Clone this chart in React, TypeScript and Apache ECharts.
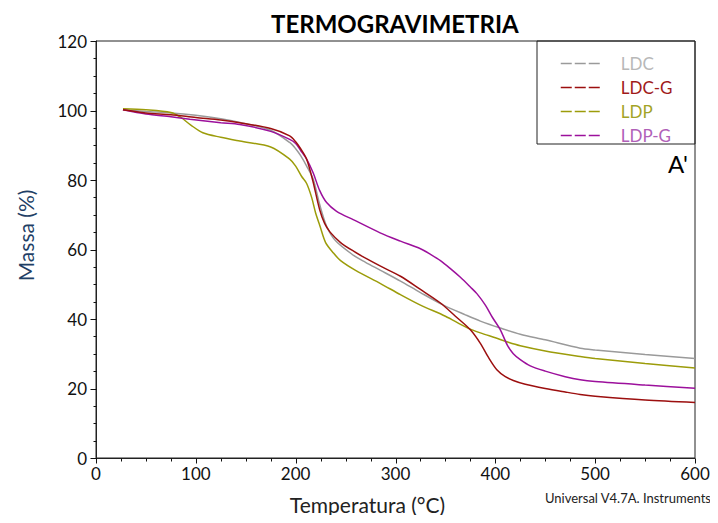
import React, { useEffect, useRef } from "react";
import * as echarts from "echarts";

const FONT = "Lato, 'Open Sans', sans-serif";

const seriesNames = ["LDC", "LDC-G", "LDP", "LDP-G"];
const seriesColors = ["#9a9a9a", "#9c0f0f", "#9c9c0a", "#9c109c"];
const legendTextColors = ["#b8b8b8", "#a01a1a", "#a3a326", "#b060b8"];

const ldcTemp = [27, 50, 75, 100, 125, 150, 175, 194, 200, 205, 211, 217.6, 224, 231, 240, 258, 270, 285, 305, 325, 348, 370, 385, 405, 425, 450, 485, 500, 550, 600];
const ldcMass = [100.2, 99.7, 99.3, 98.6, 97.6, 96.2, 94.3, 90.8, 89, 87, 84, 80.2, 73, 66.7, 62.5, 58.3, 56.3, 54, 50.9, 47.6, 44, 41.2, 39.4, 37.4, 35.6, 34, 31.6, 31.1, 29.8, 28.6];

const ldcgTemp = [27, 50, 75, 100, 125, 144, 175, 194, 200, 205, 211, 217, 224, 229, 234.5, 245, 258, 270, 285, 305, 325, 345, 360, 375, 385, 393, 401.5, 410, 418, 430, 450, 470, 485, 500, 550, 600];
const ldcgMass = [100.2, 99.3, 98.8, 98, 97.3, 96.5, 94.8, 92.7, 91, 89, 86, 80, 71.5, 67.5, 65, 62, 59.5, 57.5, 55.2, 52.3, 48.5, 44.6, 40.8, 36.9, 33, 29, 25.4, 23.4, 22.3, 21.2, 20, 19, 18.3, 17.8, 16.7, 16];

const ldpTemp = [27, 50, 75, 85, 95, 107, 125, 144, 175, 194, 200, 206, 211, 216, 220, 224.4, 230, 237.8, 245, 260, 285, 305, 325, 350, 371, 385, 400, 413, 425, 450, 485, 500, 550, 600];
const ldpMass = [100.5, 100.2, 99.4, 98, 95.8, 93.6, 92.3, 91.2, 89.5, 86, 84, 81, 79, 75, 70.5, 66.7, 62, 59, 56.8, 54, 50.2, 47, 44, 40.8, 37.6, 36, 34.6, 33.3, 32.3, 30.8, 29.2, 28.6, 27.2, 25.9];

const ldpgTemp = [27, 50, 75, 94, 125, 144, 175, 194, 200, 205, 211, 217.6, 224, 231, 241, 257.6, 284.6, 305, 325, 335, 345, 355, 365, 375, 381.5, 390, 397, 405, 412, 418, 425, 435, 450, 470, 485, 500, 550, 600];
const ldpgMass = [100.2, 99, 98.2, 97.5, 96.5, 96, 94, 91.7, 90.5, 88.5, 86, 82, 77, 73.5, 71, 68.6, 64.8, 62.4, 60.2, 58.6, 56.8, 54.5, 52, 49.2, 47.3, 44, 40.5, 36.9, 32.5, 30, 28.3, 26.5, 25, 23.4, 22.5, 22, 21, 20.1];

const xTicks = [0, 100, 200, 300, 400, 500, 600];
const yTicks = [0, 20, 40, 60, 80, 100, 120];
const xMinorStep = 25;
const yMinorStep = 5;

function pairs(t: number[], m: number[]) {
  return t.map((v, i) => [v, m[i]]);
}

// tick mark items: [x, y, length, direction(0 = down from x axis, 1 = left of y axis)]
function tickItems() {
  const items: number[][] = [];
  for (let v = 0; v <= 600; v += xMinorStep) items.push([v, 0, v % 100 === 0 ? 5 : 3, 0]);
  for (let v = 0; v <= 120; v += yMinorStep) items.push([0, v, v % 20 === 0 ? 6 : 3, 1]);
  return items;
}

export default function App() {
  const ref = useRef<HTMLDivElement>(null);
  useEffect(() => {
    if (!ref.current) return;
    const chart = echarts.init(ref.current, undefined, { renderer: "svg" });
    const datasets = [
      pairs(ldcTemp, ldcMass),
      pairs(ldcgTemp, ldcgMass),
      pairs(ldpTemp, ldpMass),
      pairs(ldpgTemp, ldpgMass),
    ];
    const lineSeries = datasets.map((d, i) => ({
      name: seriesNames[i],
      type: "line",
      data: d,
      showSymbol: false,
      symbol: "none",
      smooth: 0.3,
      lineStyle: { color: seriesColors[i], width: 1.5 },
      itemStyle: { color: seriesColors[i] },
      z: 2 + (i === 1 ? 1 : 0),
    }));
    const tickSeries = {
      name: "ticks",
      type: "custom",
      silent: true,
      clip: false,
      z: 20,
      data: tickItems(),
      renderItem: (_params: any, api: any) => {
        const p = api.coord([api.value(0), api.value(1)]);
        const len = api.value(2);
        const dir = api.value(3);
        const x = Math.round(p[0]) + 0.5;
        const y = Math.round(p[1]) + 0.5;
        const shape =
          dir === 0
            ? { x1: x, y1: y, x2: x, y2: y + len }
            : { x1: x - len, y1: y, x2: x, y2: y };
        return {
          type: "line",
          shape,
          style: { stroke: "#111", lineWidth: 1, fill: null },
        };
      },
    };
    chart.setOption({
      animation: false,
      backgroundColor: "#ffffff",
      title: {
        text: "TERMOGRAVIMETRIA",
        left: 266,
        top: 6,
        textStyle: { fontFamily: FONT, fontSize: 24, fontWeight: "bold", color: "#000" },
      },
      grid: {
        left: 96,
        right: 23,
        top: 41,
        bottom: 65,
        show: true,
        borderColor: "#222",
        borderWidth: 1,
      },
      legend: {
        orient: "vertical",
        left: 555,
        top: 50,
        itemWidth: 42,
        itemHeight: 12,
        itemGap: 7,
        lineStyle: { type: [11, 3], width: 1.5 },
        itemStyle: { opacity: 0 },
        textStyle: { fontFamily: FONT, fontSize: 17, padding: [0, 0, 0, 13] },
        data: seriesNames.map((n, i) => ({ name: n, textStyle: { color: legendTextColors[i] } })),
      },
      xAxis: {
        type: "value",
        min: 0,
        max: 600,
        interval: 100,
        name: "Temperatura (°C)",
        nameLocation: "middle",
        nameGap: 36,
        nameTextStyle: { fontFamily: FONT, fontSize: 21, color: "#222", padding: [0, 56, 0, 0] },
        axisLine: { show: true, lineStyle: { color: "#222", width: 1 } },
        axisTick: { show: false },
        splitLine: { show: false },
        axisLabel: {
          fontFamily: FONT,
          fontSize: 17,
          color: "#111",
          margin: 7,
          formatter: (v: number) => (xTicks.includes(v) ? String(v) : ""),
        },
      },
      yAxis: {
        type: "value",
        min: 0,
        max: 120,
        interval: 20,
        name: "Massa (%)",
        nameLocation: "middle",
        nameGap: 60,
        nameRotate: 90,
        nameTextStyle: { fontFamily: FONT, fontSize: 21, color: "#1f3f66", padding: [0, 0, 0, 28] },
        axisLine: { show: true, lineStyle: { color: "#222", width: 1 } },
        axisTick: { show: false },
        splitLine: { show: false },
        axisLabel: {
          fontFamily: FONT,
          fontSize: 17,
          color: "#111",
          margin: 9,
          formatter: (v: number) => (yTicks.includes(v) ? String(v) : ""),
        },
      },
      graphic: [
        {
          type: "rect",
          shape: { x: 537, y: 41, width: 158, height: 103 },
          style: { fill: "none", stroke: "#222", lineWidth: 1 },
          z: 10,
        },
        {
          type: "text",
          x: 668,
          y: 151,
          style: { text: "A'", fontFamily: FONT, fontSize: 24, fill: "#000" },
          z: 10,
        },
        {
          type: "text",
          x: 711,
          y: 491,
          style: {
            text: "Universal V4.7A. Instruments",
            fontFamily: FONT,
            fontSize: 13,
            fill: "#222",
            textAlign: "right",
          },
          z: 10,
        },
      ],
      series: [...lineSeries, tickSeries],
    });
    return () => chart.dispose();
  }, []);
  return <div ref={ref} style={{ width: 718, height: 523, margin: -8 }} />;
}
